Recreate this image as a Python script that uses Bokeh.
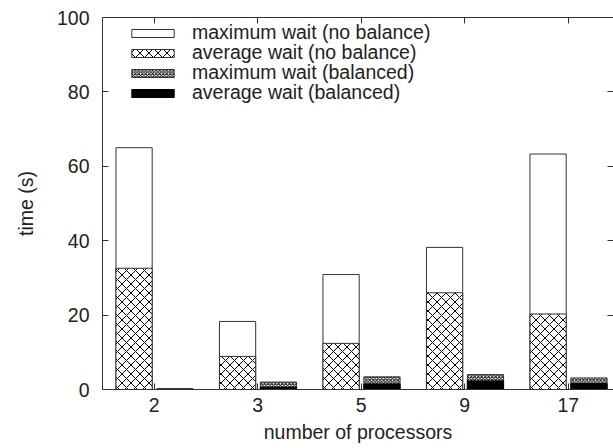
from bokeh.plotting import figure
from bokeh.models import LinearAxis, FixedTicker, ColumnDataSource, Range1d, Legend, LegendItem
from bokeh.embed import file_html
from bokeh.resources import INLINE

# ---- data ----
categories = ["2", "3", "5", "9", "17"]
max_wait_no_balance = [65.0, 18.3, 30.9, 38.2, 63.3]
avg_wait_no_balance = [32.6, 8.9, 12.4, 26.0, 20.3]
max_wait_balanced = [0.2, 2.0, 3.4, 4.0, 3.1]
avg_wait_balanced = [0.1, 0.6, 1.5, 2.3, 1.6]
series_labels = ["maximum wait (no balance)", "average wait (no balance)",
                 "maximum wait (balanced)", "average wait (balanced)"]
y_ticks = [0, 20, 40, 60, 80, 100]

FONT = "Liberation Sans"
TXT = "#222222"
LINE = "#333333"

idx = list(range(len(categories)))
left_x = [i - 0.195 for i in idx]
right_x = [i + 0.2 for i in idx]

src = ColumnDataSource(dict(
    lx=left_x, rx=right_x,
    mnb=max_wait_no_balance, anb=avg_wait_no_balance,
    mb=max_wait_balanced, ab=avg_wait_balanced,
))

p = figure(width=613, height=448, output_backend="svg", toolbar_location=None,
           x_range=Range1d(-0.5, 4.437), y_range=Range1d(0, 100),
           x_axis_location=None, y_axis_location=None,
           min_border_left=102, min_border_right=0, min_border_top=17, min_border_bottom=59)
p.grid.visible = False
p.outline_line_color = None
p.background_fill_color = "white"

W = 0.35
r1 = p.vbar(x="lx", top="mnb", bottom=0, width=W, source=src, fill_color="white",
            line_color=LINE, line_width=1)
r2 = p.vbar(x="lx", top="anb", bottom=0, width=W, source=src, fill_color="white",
            hatch_pattern="x", hatch_scale=9, hatch_color="black", hatch_weight=1,
            line_color=LINE, line_width=1)
r3 = p.vbar(x="rx", top="mb", bottom=0, width=W, source=src, fill_color="white",
            hatch_pattern="x", hatch_scale=3.5, hatch_color="black", hatch_weight=1,
            line_color=LINE, line_width=1)
r4 = p.vbar(x="rx", top="ab", bottom=0, width=W, source=src, fill_color="black",
            line_color="black", line_width=1)

def style(ax):
    ax.axis_line_color = LINE
    ax.major_tick_line_color = LINE
    ax.minor_tick_line_color = None
    ax.major_tick_in = 6
    ax.major_tick_out = 0
    ax.major_label_text_font = FONT
    ax.major_label_text_color = TXT
    ax.axis_label_text_font = FONT
    ax.axis_label_text_color = TXT
    ax.axis_label_text_font_style = "normal"
    ax.major_label_text_font_size = "19.5px"
    ax.axis_label_text_font_size = "19.5px"

xb = LinearAxis(ticker=FixedTicker(ticks=idx),
                major_label_overrides={i: c for i, c in zip(idx, categories)},
                axis_label="number of processors")
style(xb)
xb.major_label_standoff = 8
xb.axis_label_standoff = 6
p.add_layout(xb, "below")

xt = LinearAxis(ticker=FixedTicker(ticks=idx),
                major_label_overrides={i: "" for i in idx})
style(xt)
xt.major_label_text_font_size = "1px"
xt.major_label_standoff = 0
p.add_layout(xt, "above")

yl = LinearAxis(ticker=FixedTicker(ticks=y_ticks), axis_label="time (s)")
style(yl)
yl.major_label_standoff = 13
yl.axis_label_standoff = 17
p.add_layout(yl, "left")

yr = LinearAxis(ticker=FixedTicker(ticks=y_ticks),
                major_label_overrides={t: "" for t in y_ticks})
style(yr)
yr.major_label_text_font_size = "1px"
yr.major_label_standoff = 0
yr.axis_line_color = None
p.add_layout(yr, "right")

# one single-row legend per series so the row pitch can match the reference
row_offsets = [345, 325, 305, 285]
for lab, rend, yoff in zip(series_labels, [r1, r2, r3, r4], row_offsets):
    lg = Legend(items=[LegendItem(label=lab, renderers=[rend])],
                location=(24, yoff))
    lg.border_line_color = None
    lg.background_fill_alpha = 0
    lg.margin = 0
    lg.padding = 0
    lg.glyph_width = 53
    lg.glyph_height = 10
    lg.label_standoff = 13
    lg.label_text_font = FONT
    lg.label_text_font_size = "19.5px"
    lg.label_text_color = TXT
    lg.label_height = 20
    p.add_layout(lg)

open("out.html", "w").write(file_html(p, INLINE))
